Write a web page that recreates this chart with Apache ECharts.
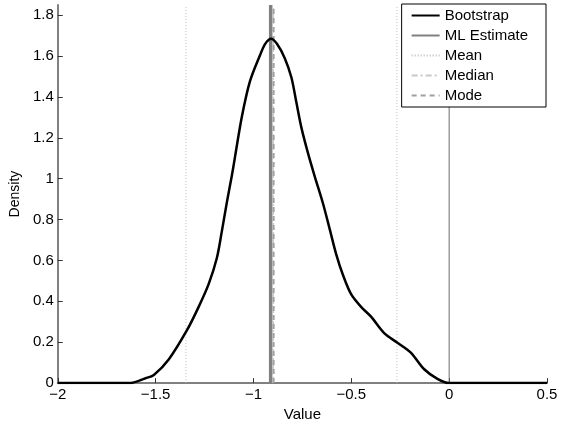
<!DOCTYPE html>
<html>
<head>
<meta charset="utf-8">
<script src="https://cdn.jsdelivr.net/npm/echarts@6/dist/echarts.min.js"></script>
<style>html,body{margin:0;padding:0;background:#fff}#c{width:565px;height:427px}</style>
</head>
<body>
<div id="c"></div>
<script>
const densityX = [-2, -1.636, -1.551, -1.509, -1.432, -1.339, -1.280, -1.229, -1.187, -1.162, -1.136, -1.111, -1.094, -1.060, -1.018, -0.967, -0.94, -0.91, -0.88, -0.84, -0.806, -0.78, -0.755, -0.721, -0.687, -0.645, -0.611, -0.577, -0.543, -0.501, -0.45, -0.399, -0.332, -0.264, -0.196, -0.129, -0.06, 0, 0.5];
const densityY = [0, 0, 0.024, 0.04, 0.117, 0.26, 0.373, 0.484, 0.612, 0.74, 0.884, 1.012, 1.108, 1.30, 1.476, 1.603, 1.66, 1.685, 1.66, 1.59, 1.495, 1.37, 1.25, 1.124, 1.012, 0.88, 0.756, 0.63, 0.53, 0.435, 0.373, 0.325, 0.245, 0.197, 0.149, 0.069, 0.021, 0, 0];
const mlEstimate = -0.912;
const meanLines = [-1.345, -0.267];
const median = -0.9;
const mode = -0.897;
const zeroLine = 0;
const xTicks = [-2, -1.5, -1, -0.5, 0, 0.5];
const yTicks = [0, 0.2, 0.4, 0.6, 0.8, 1, 1.2, 1.4, 1.6, 1.8];
const yMax = 1.85;

const font = 'Liberation Sans, Arial, sans-serif';
function vline(x){ return [[x, 0], [x, yMax]]; }
const chart = echarts.init(document.getElementById('c'));
const series = [
  {name: 'Bootstrap', type: 'line', z: 5, symbol: 'none', smooth: 0.3,
   data: densityX.map((x, i) => [x, densityY[i]]),
   lineStyle: {color: '#000', width: 2.5}, itemStyle: {color: '#000'}},
  {name: 'ML Estimate', type: 'line', symbol: 'none', data: vline(mlEstimate),
   lineStyle: {color: '#808080', width: 3.5}, itemStyle: {color: '#808080'}},
  {name: 'Mean', type: 'line', symbol: 'none', data: vline(meanLines[0]),
   lineStyle: {color: '#bdbdbd', width: 1, type: [1, 2]}, itemStyle: {color: '#bdbdbd'}},
  {name: 'Mean', type: 'line', symbol: 'none', data: vline(meanLines[1]),
   lineStyle: {color: '#bdbdbd', width: 1, type: [1, 2]}, itemStyle: {color: '#bdbdbd'}},
  {name: 'Median', type: 'line', symbol: 'none', z: 3, data: vline(median),
   lineStyle: {color: '#c8c8c8', width: 2, type: [6, 3, 2, 3]}, itemStyle: {color: '#c8c8c8'}},
  {name: 'Mode', type: 'line', symbol: 'none', z: 4, data: vline(mode),
   lineStyle: {color: '#a0a0a0', width: 2, type: [5, 4]}, itemStyle: {color: '#a0a0a0'}},
  {name: 'zero', type: 'line', symbol: 'none', data: vline(zeroLine),
   lineStyle: {color: '#6e6e6e', width: 1}, itemStyle: {color: '#6e6e6e'}}
];
chart.setOption({
  animation: false,
  backgroundColor: '#fff',
  textStyle: {fontFamily: font},
  grid: {left: 55, right: 18, top: 5, bottom: 36, containLabel: false},
  legend: {
    data: ['Bootstrap', 'ML Estimate', 'Mean', 'Median', 'Mode'],
    orient: 'vertical', right: 19, top: 4,
    backgroundColor: '#fff', borderColor: '#000', borderWidth: 1, borderRadius: 0,
    padding: [4, 18, 4, 9], itemGap: 5, itemWidth: 28, itemHeight: 14,
    itemStyle: {opacity: 0},
    textStyle: {fontSize: 15, color: '#000', fontFamily: font}
  },
  xAxis: {
    type: 'value', min: -2, max: 0.5, interval: 0.5,
    name: 'Value', nameLocation: 'middle', nameGap: 21,
    nameTextStyle: {fontSize: 15, color: '#000', fontFamily: font},
    axisLine: {onZero: false, lineStyle: {color: '#808080', width: 2}},
    axisTick: {inside: true, length: 5, lineStyle: {color: '#333'}},
    axisLabel: {margin: 4, fontSize: 15, color: '#000', fontFamily: font,
      customValues: xTicks,
      formatter: v => String(v).replace('-', '\u2212')},
    splitLine: {show: false}
  },
  yAxis: {
    type: 'value', min: 0, max: yMax, interval: 0.2,
    name: 'Density', nameLocation: 'middle', nameGap: 27, nameRotate: 90,
    nameTextStyle: {fontSize: 14, color: '#000', fontFamily: font},
    axisLine: {onZero: false, lineStyle: {color: '#808080', width: 2}},
    axisTick: {inside: true, length: 5, customValues: yTicks, lineStyle: {color: '#333'}},
    axisLabel: {margin: 4, fontSize: 15, color: '#000', fontFamily: font,
      customValues: yTicks,
      formatter: v => String(Math.round(v * 10) / 10)},
    splitLine: {show: false}
  },
  series: series
});
</script>
</body>
</html>
